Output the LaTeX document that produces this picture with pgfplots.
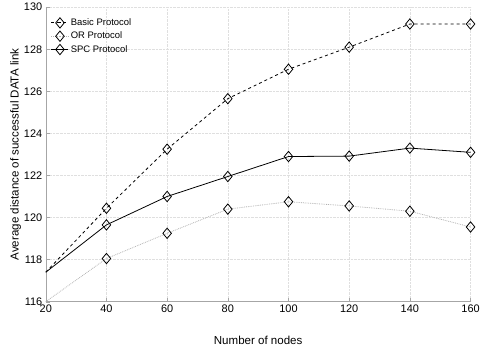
\documentclass[border=0pt]{standalone}
\usepackage{pgfplots}
\pgfplotsset{compat=1.18}
\usepackage{fontspec}
\setmainfont{Liberation Sans}
\begin{document}
\begin{tikzpicture}
\begin{axis}[
  scale only axis,
  width=427pt, height=296pt,
  xmin=20, xmax=160, ymin=116, ymax=130,
  xtick={20,40,...,160}, ytick={116,118,...,130},
  axis x line=bottom, axis y line=left,
  axis line style={-, gray!70},
  tick style={gray!70},
  tick align=inside,
  major tick length=4pt,
  grid=major,
  grid style={densely dotted, gray!25},
  font=\fontsize{11}{13}\selectfont,
  /pgf/number format/assume math mode=true,
  xlabel={Number of nodes},
  ylabel={Average distance of successful DATA link},
  label style={font=\fontsize{11.6}{13}\selectfont},
  xlabel style={yshift=-16pt},
  ylabel style={yshift=-4pt},
  legend style={draw=none, fill=none, at={(0.005,0.975)}, anchor=north west, font=\fontsize{9.5}{11}\selectfont, row sep=1pt},
  legend cell align=left,
  every axis plot/.append style={mark=diamond, mark size=5.2pt, mark options={solid, fill=white, draw=black, xscale=1.1}, mark indices={2,3,4,5,6,7,8}},
  legend image post style={mark indices={2}},
  clip=false,
]
\addplot[black, dashed, thick] coordinates {(20,117.4) (40,120.44) (60,123.25) (80,125.65) (100,127.05) (120,128.1) (140,129.2) (160,129.2)};
\addlegendentry{Basic Protocol}
\addplot[gray!60, densely dotted, thick] coordinates {(20,116.0) (40,118.05) (60,119.25) (80,120.4) (100,120.75) (120,120.55) (140,120.3) (160,119.55)};
\addlegendentry{OR Protocol}
\addplot[black, thick] coordinates {(20,117.4) (40,119.65) (60,121.0) (80,121.95) (100,122.9) (120,122.92) (140,123.3) (160,123.1)};
\addlegendentry{SPC Protocol}
\end{axis}
\useasboundingbox ([xshift=-46pt,yshift=-42pt]current axis.south west) rectangle ([xshift=10pt,yshift=7pt]current axis.north east);
\end{tikzpicture}
\end{document}
